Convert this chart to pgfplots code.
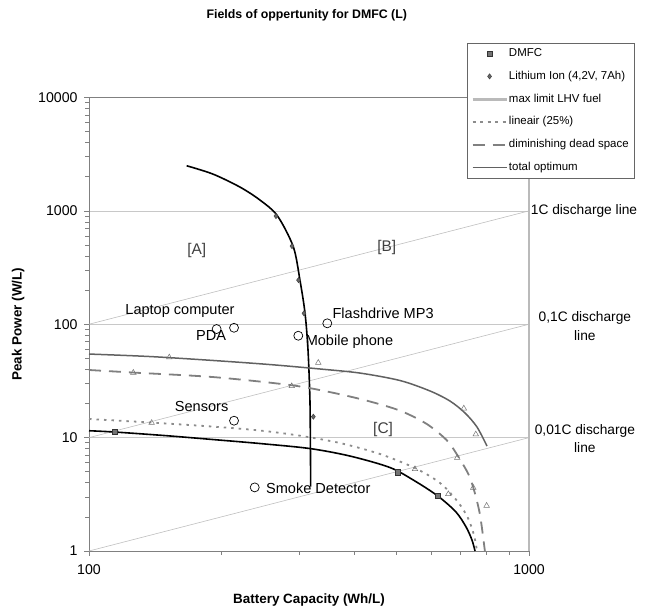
\documentclass[border=0pt]{standalone}
\usepackage{fontspec}
\setmainfont{Liberation Sans}
\usepackage{pgfplots}
\pgfplotsset{compat=1.18}
\definecolor{gridc}{HTML}{C8C8C8}
\definecolor{axc}{HTML}{808080}
\begin{document}
\begin{tikzpicture}
\begin{axis}[
  at={(0,0)}, anchor=south west,
  scale only axis, width=440bp, height=453.5bp,
  xmode=log, ymode=log,
  xmin=100, xmax=1000, ymin=1, ymax=10000,
  clip=false,
  axis x line*=box, axis y line*=left,
  xtick={100,1000}, xticklabels={100,1000},
  ytick={1,10,100,1000,10000}, yticklabels={1,10,100,1000,10000},
  minor xtick={200,300,400,500,600,700,800,900},
  minor ytick={2,3,4,5,6,7,8,9,20,30,40,50,60,70,80,90,200,300,400,500,600,700,800,900,2000,3000,4000,5000,6000,7000,8000,9000},
  tick pos=left, tick align=outside,
  major tick length=5bp, minor tick length=4bp,
  every tick/.style={color=axc, line width=0.7bp},
  axis line style={color=axc, line width=0.8bp},
  ymajorgrids, major grid style={color=gridc, line width=0.6bp},
  /pgf/number format/assume math mode=true,
  ticklabel style={font=\fontsize{14.2}{16}\selectfont},
  yticklabel style={xshift=-3bp},
  xticklabel style={yshift=-5bp},
  xlabel={Battery Capacity (Wh/L)},
  ylabel={Peak Power (W/L)},
  label style={font=\bfseries\fontsize{13.5}{15}\selectfont},
  xlabel style={at={(axis description cs:0.5,-0.108)}, anchor=center},
  ylabel style={at={(axis description cs:-0.161,0.5)}, anchor=center},
  legend style={at={(axis description cs:0.859,1.1204)}, anchor=north west,
    draw=black!60, fill=white,
    font=\fontsize{11.5}{13}\selectfont,
    nodes={inner sep=1bp, text height=8.5bp, text depth=2.5bp},
    row sep=9.8bp, inner xsep=4bp, inner ysep=4bp},
  legend cell align=left,
  legend image code/.code={\draw[mark repeat=2,mark phase=2,#1] plot coordinates {(0cm,0cm) (0.6cm,0cm) (1.2cm,0cm)};},
]
% discharge lines
\addplot[forget plot, color=black!25, line width=0.6bp] coordinates {(100,100) (1000,1000)};
\addplot[forget plot, color=black!25, line width=0.6bp] coordinates {(100,10) (1000,100)};
\addplot[forget plot, color=black!25, line width=0.6bp] coordinates {(100,1) (1000,10)};
% Lithium ion trend
\addplot[forget plot, black, line width=1.6bp, smooth] coordinates {
(166.7,2500) (191.3,2111) (220.3,1622) (244.7,1245) (268,905) (291.3,482) (301.6,245) (309.7,125.5) (314.6,59.2) (317.8,21.5) (318.6,8) (319,3.7)};
% DMFC trend
\addplot[forget plot, black, line width=1.6bp, smooth] coordinates {
(100,11.5) (114.6,11.2) (150,10.4) (191.3,9.62) (244.7,8.87) (317.8,8.01) (391.8,6.88) (483,5.45) (550.6,4.14) (621,3.05) (682.3,2.21) (719.4,1.63) (742,1.25) (754,1.0)};
% triangles
\addplot[forget plot, only marks, mark=triangle, mark size=3.2bp, mark options={color=black!55, line width=0.5bp}] coordinates {
(152.2,51.1) (332,45.8) (711,18.1) (757,10.7) (126.1,37.4) (288.9,28.5) (687,6.65) (747,3.62) (138.8,13.5) (550.6,5.28) (655.6,3.18) (801,2.51)};
% application circles
\addplot[forget plot, only marks, mark=o, mark size=4.5bp, mark options={color=black, line width=0.7bp}] coordinates {
(195,90.7) (213.6,93.1) (299,79.2) (348,101.9) (213.6,14.1) (238,3.64)};
% legend series
\addplot[only marks, mark=square*, mark size=2.6bp, mark options={fill=black!55, draw=black!80, line width=0.5bp}] coordinates {(114.6,11.2) (503,4.94) (621,3.05)};
\addlegendentry{DMFC}
\addplot[only marks, mark=diamond*, mark size=2.6bp, mark options={fill=black!60, draw=black!75, line width=0.5bp}] coordinates {(266,900) (289.3,489) (299.3,245) (308,124.8) (323.5,15.3)};
\addlegendentry{Lithium Ion (4,2V, 7Ah)}
\addplot[color=black!27, line width=2.8bp] coordinates {(1000,1) (1000,10000)};
\addlegendentry{max limit LHV fuel}
\addplot[color=black!45, line width=1.8bp, dash pattern=on 2.5bp off 5bp, smooth] coordinates {
(100,14.6) (137.6,13.6) (191.7,12.5) (244.7,11.55) (301.6,10.4) (372,8.96) (458.5,7.17) (550.6,5.39) (627.9,3.98) (689.8,2.70) (726.8,1.95) (750,1.38) (761.9,1.0)};
\addlegendentry{lineair (25\%)}
\addplot[color=black!50, line width=1.8bp, dash pattern=on 12bp off 8bp, smooth] coordinates {
(100,39.5) (125.9,37.5) (191.7,34.2) (286.3,29.1) (352.9,25.2) (427.6,21.2) (509,17.3) (585.5,13.2) (650,9.5) (687,7.03) (728,4.78) (750,3.45) (774,2.08) (794,1.0)};
\addlegendentry{diminishing dead space}
\addplot[color=black!62, line width=1.5bp, smooth] coordinates {
(100,54.6) (137.6,51.9) (191.7,47.9) (257.8,44.1) (335,40.3) (413,37.1) (509,31.9) (595.6,25.8) (661.6,21.0) (715.4,16.5) (761.9,12.4) (802.5,8.43)};
\addlegendentry{total optimum}
% text
\node[font=\bfseries\fontsize{12.4}{14}\selectfont] at (axis description cs:0.495,1.182) {Fields of oppertunity for DMFC (L)};
\node[font=\fontsize{15.5}{17}\selectfont, color=black!75] at (175.8,451) {[A]};
\node[font=\fontsize{15.5}{17}\selectfont, color=black!75] at (475,479) {[B]};
\node[font=\fontsize{15.5}{17}\selectfont, color=black!75] at (466,11.7) {[C]};
\node[font=\fontsize{14.6}{16}\selectfont] at (161,130.7) {Laptop computer};
\node[font=\fontsize{14.6}{16}\selectfont] at (189.4,80.3) {PDA};
\node[font=\fontsize{14.6}{16}\selectfont] at (390.8,69.7) {Mobile phone};
\node[font=\fontsize{14.6}{16}\selectfont] at (466,125.6) {Flashdrive MP3};
\node[font=\fontsize{14.6}{16}\selectfont] at (180.3,18.7) {Sensors};
\node[font=\fontsize{14.6}{16}\selectfont] at (332,3.57) {Smoke Detector};
\node[font=\fontsize{13.8}{16}\selectfont, align=center] at (axis description cs:1.125,0.7497) {1C discharge line};
\node[font=\fontsize{13.8}{18.5}\selectfont, align=center] at (axis description cs:1.127,0.496) {0,1C discharge\\line};
\node[font=\fontsize{13.8}{18.5}\selectfont, align=center] at (axis description cs:1.127,0.248) {0,01C discharge\\line};
\end{axis}
\pgfresetboundingbox
\useasboundingbox (-89bp,-58bp) rectangle (558bp,551bp);
\end{tikzpicture}
\end{document}
